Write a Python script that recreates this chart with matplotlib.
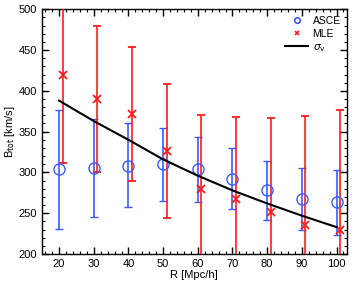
import matplotlib
matplotlib.use("Agg")
import matplotlib.pyplot as plt
from matplotlib.ticker import MultipleLocator

plt.rcParams['font.family'] = ['Liberation Sans', 'DejaVu Sans']

R = [20, 30, 40, 50, 60, 70, 80, 90, 100]
asce = [304, 305, 308.5, 310, 304, 292, 279, 268, 263.5]
asce_hi = [376, 365.5, 360, 354.5, 344, 329.5, 314.5, 305, 302.5]
asce_lo = [231, 245, 258, 265, 264, 255, 242, 230, 223]
R_mle = [21, 31, 41, 51, 61, 71, 81, 91, 101]
mle = [420, 390, 372, 326, 279.5, 268, 251, 236, 229.5]
mle_hi = [520, 479, 454, 408, 370, 368, 366.5, 369, 376]
mle_lo = [312, 301, 290, 244, 150, 150, 150, 150, 150]
sigma_v = [388, 363, 340, 316, 296, 278, 262, 247, 233]

fig = plt.figure(figsize=(3.54, 2.81), dpi=100)
ax = fig.add_axes([0.118, 0.096, 0.862, 0.871])

blue = '#3b5bff'
red = '#ff1a1a'
ax.errorbar(R, asce, yerr=[[a - l for a, l in zip(asce, asce_lo)], [h - a for a, h in zip(asce, asce_hi)]],
            fmt='o', mfc='none', mec=blue, ecolor=blue, ms=8, mew=1.0, elinewidth=1.2, capsize=3, capthick=1.2,
            label='ASCE', zorder=3)
ax.errorbar(R_mle, mle, yerr=[[m - l for m, l in zip(mle, mle_lo)], [h - m for m, h in zip(mle, mle_hi)]],
            fmt='x', color=red, ecolor=red, ms=6, mew=1.3, elinewidth=1.2, capsize=3, capthick=1.2,
            label='MLE', zorder=3)
ax.plot(R, sigma_v, color='black', lw=1.5, label=r'$\sigma_{\rm v}$', zorder=4)

ax.set_xlim(15, 103)
ax.set_ylim(200, 500)
ax.xaxis.set_major_locator(MultipleLocator(10))
ax.xaxis.set_minor_locator(MultipleLocator(2))
ax.yaxis.set_major_locator(MultipleLocator(50))
ax.yaxis.set_minor_locator(MultipleLocator(10))
ax.tick_params(which='both', direction='in', top=True, right=True, labelsize=8)
ax.tick_params(which='major', length=5, width=1)
ax.tick_params(which='minor', length=2.5, width=0.8)
for s in ax.spines.values():
    s.set_linewidth(1.0)

ax.set_xlabel('R [Mpc/h]', fontsize=8, labelpad=1)
ax.set_ylabel(r'B$_{\rm tot}$ [km/s]', fontsize=8, labelpad=1)

from matplotlib.lines import Line2D
handles = [Line2D([], [], marker='o', ls='none', mfc='none', mec=blue, ms=4, mew=1.2),
           Line2D([], [], marker='x', ls='none', color=red, ms=3, mew=1.2),
           Line2D([], [], color='black', lw=1.5)]
ax.legend(handles, ['ASCE', 'MLE', r'$\sigma_{\rm v}$'], loc='upper right', frameon=False, fontsize=7.5,
          handlelength=2.2, handletextpad=0.4, borderaxespad=0.2, labelspacing=0.3)

fig.savefig('out.png', dpi=100)
